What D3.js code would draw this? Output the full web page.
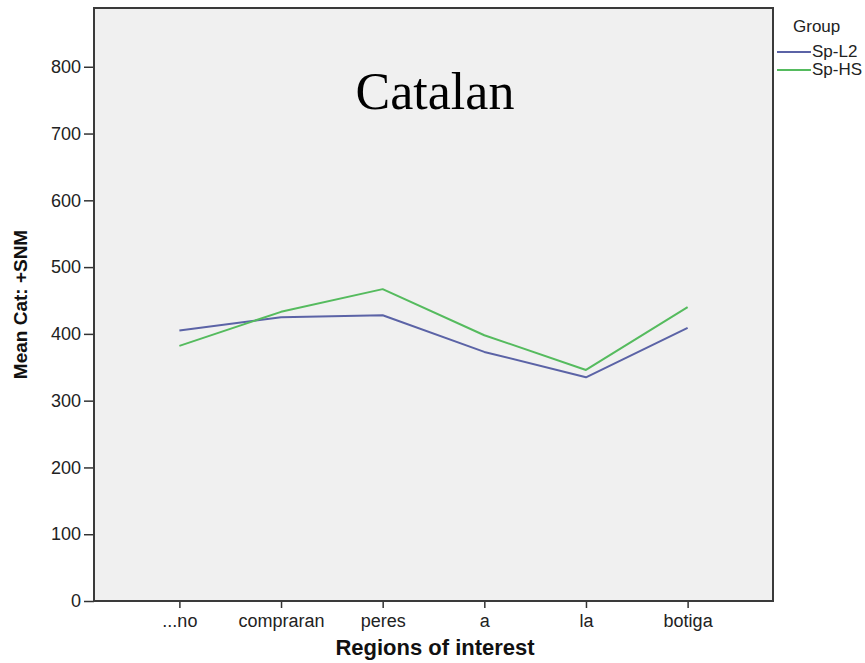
<!DOCTYPE html>
<html>
<head>
<meta charset="utf-8">
<script src="https://cdn.jsdelivr.net/npm/d3@7"></script>
<style>
  html, body { margin: 0; padding: 0; background: #ffffff; }
  svg { display: block; }
  .axis text { font-family: "Liberation Sans", Arial, sans-serif; fill: #222; }
</style>
</head>
<body>
<script>
// Regions of interest along the sentence
const categories = ["...no", "compraran", "peres", "a", "la", "botiga"];
// Mean reading measure per group
const spL2 = [405, 425, 428, 373, 335, 409];
const spHS = [382, 433, 467, 398, 346, 440];
const groups = ["Sp-L2", "Sp-HS"];
const yTicks = [0, 100, 200, 300, 400, 500, 600, 700, 800];

const W = 865, H = 663;
const plot = { left: 94, right: 773, top: 8, bottom: 601 };
const colors = { "Sp-L2": "#5b63a6", "Sp-HS": "#55bb5e" };
const series = [
  { name: groups[0], values: spL2 },
  { name: groups[1], values: spHS }
];

const svg = d3.select("body").append("svg")
  .attr("width", W).attr("height", H);

const x = d3.scalePoint()
  .domain(categories)
  .range([plot.left, plot.right])
  .padding(0.84);

const y = d3.scaleLinear()
  .domain([0, 888])
  .range([plot.bottom, plot.top]);

// panel background
svg.append("rect")
  .attr("x", plot.left).attr("y", plot.top)
  .attr("width", plot.right - plot.left)
  .attr("height", plot.bottom - plot.top)
  .attr("fill", "#f0f0f0");

// axes
const yAxis = svg.append("g").attr("class", "axis")
  .attr("transform", `translate(${plot.left},0)`)
  .call(d3.axisLeft(y).tickValues(yTicks).tickSize(10).tickPadding(3));
yAxis.select(".domain").remove();
yAxis.selectAll(".tick line").attr("stroke", "#333").attr("stroke-width", 1.5);
yAxis.selectAll("text").attr("font-size", 18);

const xAxis = svg.append("g").attr("class", "axis")
  .attr("transform", `translate(0,${plot.bottom})`)
  .call(d3.axisBottom(x).tickSize(7).tickPadding(6));
xAxis.select(".domain").remove();
xAxis.selectAll(".tick line").attr("stroke", "#333").attr("stroke-width", 1.5);
xAxis.selectAll("text").attr("font-size", 18);

// frame
svg.append("rect")
  .attr("x", plot.left).attr("y", plot.top)
  .attr("width", plot.right - plot.left)
  .attr("height", plot.bottom - plot.top)
  .attr("fill", "none")
  .attr("stroke", "#3a3a3a")
  .attr("stroke-width", 2);

// series lines
const line = d3.line()
  .x((d, i) => x(categories[i]))
  .y(d => y(d));

svg.append("g").selectAll("path")
  .data(series)
  .join("path")
  .attr("d", d => line(d.values))
  .attr("fill", "none")
  .attr("stroke", d => colors[d.name])
  .attr("stroke-width", 2)
  .attr("stroke-linejoin", "round");

// title
svg.append("text")
  .attr("x", 435).attr("y", 109)
  .attr("text-anchor", "middle")
  .attr("font-family", "'Liberation Serif', 'Times New Roman', serif")
  .attr("font-size", 52)
  .attr("fill", "#000")
  .text("Catalan");

// axis titles
svg.append("text")
  .attr("x", 435).attr("y", 655)
  .attr("text-anchor", "middle")
  .attr("font-family", "'Liberation Sans', Arial, sans-serif")
  .attr("font-weight", "bold")
  .attr("font-size", 22)
  .attr("fill", "#111")
  .text("Regions of interest");

svg.append("text")
  .attr("transform", `translate(27,${(plot.top + plot.bottom) / 2}) rotate(-90)`)
  .attr("text-anchor", "middle")
  .attr("font-family", "'Liberation Sans', Arial, sans-serif")
  .attr("font-weight", "bold")
  .attr("font-size", 19)
  .attr("fill", "#111")
  .text("Mean Cat: +SNM");

// legend
const legend = svg.append("g")
  .attr("font-family", "'Liberation Sans', Arial, sans-serif")
  .attr("fill", "#222");
legend.append("text")
  .attr("x", 793).attr("y", 32)
  .attr("font-size", 17)
  .text("Group");
const items = legend.selectAll("g.item")
  .data(groups)
  .join("g")
  .attr("class", "item")
  .attr("transform", (d, i) => `translate(777,${52 + i * 18})`);
items.append("line")
  .attr("x1", 0).attr("x2", 34)
  .attr("stroke", d => colors[d])
  .attr("stroke-width", 2);
items.append("text")
  .attr("x", 35).attr("y", 5)
  .attr("font-size", 17)
  .text(d => d);
</script>
</body>
</html>
